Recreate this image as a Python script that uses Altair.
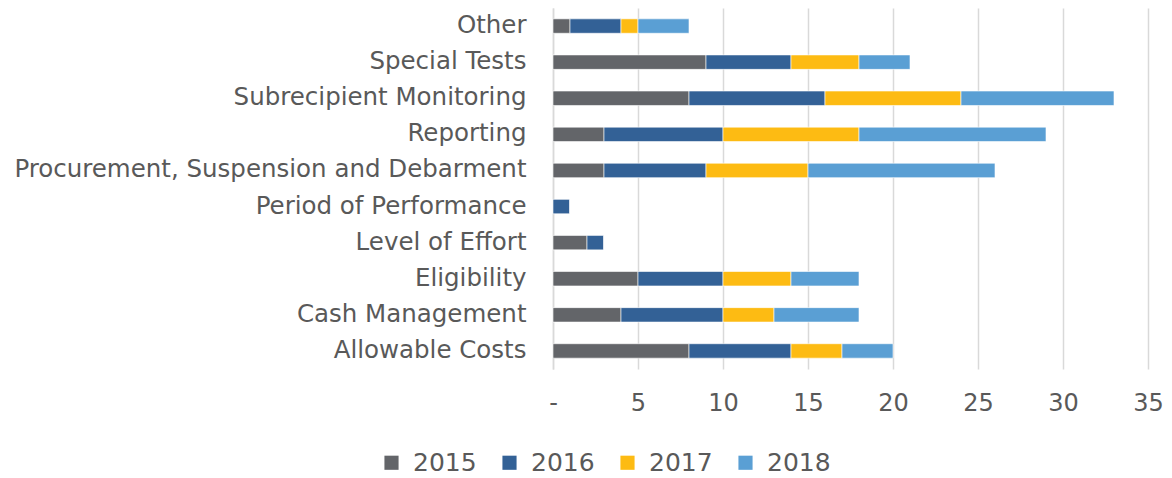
import altair as alt
import pandas as pd

categories = ["Other", "Special Tests", "Subrecipient Monitoring", "Reporting",
              "Procurement, Suspension and Debarment", "Period of Performance",
              "Level of Effort", "Eligibility", "Cash Management", "Allowable Costs"]
years = ["2015", "2016", "2017", "2018"]
v2015 = [1, 9, 8, 3, 3, 0, 2, 5, 4, 8]
v2016 = [3, 5, 8, 7, 6, 1, 1, 5, 6, 6]
v2017 = [1, 4, 8, 8, 6, 0, 0, 4, 3, 3]
v2018 = [3, 3, 9, 11, 11, 0, 0, 4, 5, 3]
colors = ["#636569", "#336196", "#FDBB13", "#5A9FD4"]

rows = []
for y, vals in zip(years, [v2015, v2016, v2017, v2018]):
    for c, v in zip(categories, vals):
        rows.append({"category": c, "year": y, "value": v, "order": int(y)})
df = pd.DataFrame(rows)

FONT = "DejaVu Sans"
TXT = "#595959"

chart = alt.Chart(df).mark_bar(stroke="white", strokeWidth=0.6).encode(
    y=alt.Y("category:N", sort=categories, title=None,
            scale=alt.Scale(paddingInner=0.6, paddingOuter=0.3),
            axis=alt.Axis(labelFont=FONT, labelFontSize=24.5, labelColor=TXT,
                          labelPadding=27, ticks=False, domain=True,
                          domainColor="#d9d9d9", domainWidth=1.5, labelLimit=600)),
    x=alt.X("value:Q", title=None,
            scale=alt.Scale(domain=[0, 35], nice=False),
            axis=alt.Axis(values=[0, 5, 10, 15, 20, 25, 30, 35],
                          labelExpr="datum.value == 0 ? '-\u00a0\u00a0' : datum.label",
                          labelFont=FONT, labelFontSize=24, labelColor=TXT,
                          labelFlush=False,
                          labelPadding=22, ticks=False, domain=False,
                          grid=True, gridColor="#d9d9d9", gridWidth=1.5)),
    color=alt.Color("year:N", sort=years,
                    scale=alt.Scale(domain=years, range=colors),
                    legend=alt.Legend(title=None, orient="none", direction="horizontal",
                                      legendX=-174, legendY=442,
                                      symbolType="square", symbolSize=200,
                                      symbolStrokeWidth=0, labelFont=FONT,
                                      labelFontSize=25, labelColor=TXT,
                                      labelOffset=9, columnPadding=20)),
    order=alt.Order("order:Q", sort="ascending"),
).properties(
    width=595, height=361,
    autosize=alt.AutoSizeParams(type="none"),
    padding={"left": 545, "top": 0, "right": 16, "bottom": 108},
).configure_view(stroke=None)

chart.save("out.html", embed_options={"renderer": "svg", "actions": False})
